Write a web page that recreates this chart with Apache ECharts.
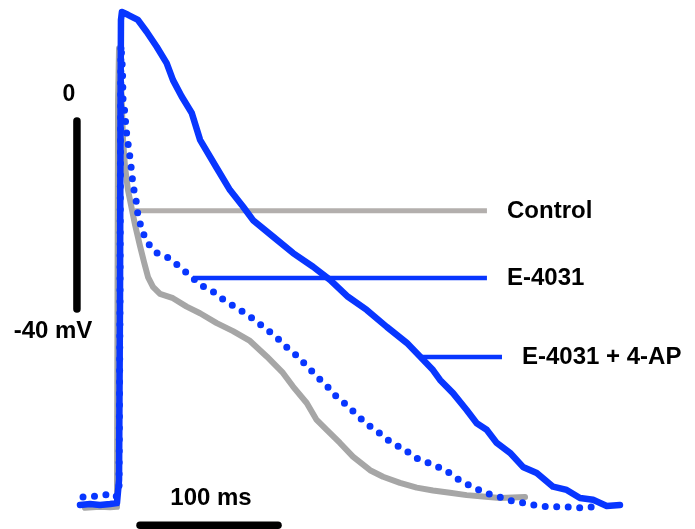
<!DOCTYPE html>
<html>
<head>
<meta charset="utf-8">
<script src="https://cdn.jsdelivr.net/npm/echarts@6/dist/echarts.min.js"></script>
<style>html,body{margin:0;padding:0;background:#fff;}#c{width:695px;height:529px;}</style>
</head>
<body>
<div id="c"></div>
<script>
// time (ms) and membrane potential (mV)
const controlT = [-25.4,-14.5,-7.2,-2.2,-1.8,-1.4,-0.7,0.7,2.2,3.6,5.8,8.0,10.9,14.5,17.4,20.3,23.9,29.0,38.4,48.3,58.0,70.1,81.9,94.2,106.3,118.1,125.4,135.3,142.5,149.8,159.4,168.8,181.2,190.6,202.9,215.0,226.8,239.1,251.2,263.0,275.4,293.5];
const controlV = [-82.3,-82.1,-82.2,-82.1,-38.1,4.5,15.5,8.7,-4.0,-9.6,-14.7,-17.9,-22.1,-26.6,-30.0,-33.2,-35.3,-36.8,-37.7,-39.5,-40.9,-43.0,-44.7,-46.8,-50.1,-53.6,-56.5,-60.0,-63.6,-65.7,-68.5,-71.4,-74.3,-75.7,-77.0,-78.0,-78.6,-79.1,-79.6,-79.9,-80.2,-80.0];

const e4031T = [-26.8,-15.9,-7.2,-2.9,-0.7,0,0.4,0.7,1.8,2.2,3.6,4.3,5.8,7.2,8.5,9.4,11.6,13.0,15.7,19.3,26.1,34.8,42.8,50.7,58.7,67.4,75.4,84.1,92.8,104.3,113.0,120.3,128.0,135.3,142.5,150.0,157.0,165.0,172.5,180.4,188.9,196.9,205.8,213.8,219.3,228.6,237.7,246.4,255.1,264.5,273.9,283.8,293.5,302.9,313.5,323.7,333.8,342.5];
const e4031V = [-80.0,-79.8,-79.4,-80.0,-78.5,-38.1,0.2,16.2,10.9,4.5,1.7,-1.5,-4.7,-7.7,-10.9,-13.6,-16.8,-20.0,-23.0,-25.7,-28.0,-29.1,-30.9,-32.9,-34.9,-36.3,-38.1,-39.7,-41.3,-43.9,-45.9,-48.0,-49.9,-52.1,-54.3,-56.4,-58.7,-60.6,-62.8,-64.8,-66.6,-68.5,-69.8,-71.6,-72.3,-73.3,-74.7,-76.5,-77.8,-79.1,-79.9,-80.8,-81.3,-81.9,-82.1,-82.1,-82.3,-82.1];

const apT = [-29.0,-21.7,-14.5,-7.2,-2.2,-0.7,0,0.4,0.7,1.4,5.8,13.0,19.3,26.6,33.8,38.4,44.7,52.0,58.0,70.1,79.7,89.1,96.4,110.9,125.4,139.9,152.2,165.2,178.8,193.3,207.8,217.4,226.8,231.9,241.3,251.2,258.5,265.7,273.0,282.6,292.0,302.0,313.8,323.7,333.3,342.8,352.7,362.3];
const apV = [-81.7,-81.5,-81.7,-81.5,-81.3,-76.4,-38.1,4.5,21.5,23.2,22.6,21.5,19.0,15.8,12.3,8.7,5.2,1.7,-4.0,-10.0,-14.7,-18.2,-21.1,-24.6,-28.1,-31.0,-33.8,-37.4,-40.2,-43.8,-47.2,-50.1,-53.0,-55.1,-57.9,-61.5,-64.3,-65.7,-68.5,-70.6,-73.6,-74.9,-77.8,-78.5,-80.2,-80.6,-81.9,-81.7];

// legend leader lines: [t start, t end, level mV]
const leaderControl = [10.9, 265.9, -19.1];
const leaderE4031 = [52.9, 265.9, -33.4];
const leaderAP = [217.4, 276.8, -50.2];

// scale bars
const scaleBarMs = [14.5, 114.5]; // 100 ms
const scaleBarMsLevel = -86.0;
const scaleBarMv = [0, -40];      // 40 mV
const scaleBarMvTime = -31.2;

const labels = ['Control', 'E-4031', 'E-4031 + 4-AP'];

const zip = (a, b) => a.map((v, i) => [v, b[i]]);
const hline = (l) => [[l[0], l[2]], [l[1], l[2]]];

const BLUE = '#0836ff';
const GRAY = '#a6a6a6';
const LGRAY = '#b3afad';

const base = {type: 'line', showSymbol: false, symbol: 'none', animation: false, clip: false, silent: true};

const chart = echarts.init(document.getElementById('c'), null, {renderer: 'canvas'});
chart.setOption({
  backgroundColor: '#ffffff',
  animation: false,
  grid: {left: 9.6, top: 3.5, width: 676.2, height: 517, containLabel: false},
  xAxis: {type: 'value', min: -80, max: 410, show: false},
  yAxis: {type: 'value', min: -85, max: 25, show: false},
  series: [
    Object.assign({}, base, {name: 'leaderControl', data: hline(leaderControl), lineStyle: {color: LGRAY, width: 5}}),
    Object.assign({}, base, {name: 'leaderE4031', data: hline(leaderE4031), lineStyle: {color: BLUE, width: 4.5}}),
    Object.assign({}, base, {name: 'leaderAP', data: hline(leaderAP), lineStyle: {color: BLUE, width: 4.5}}),
    Object.assign({}, base, {name: labels[0], data: zip(controlT, controlV), lineStyle: {color: GRAY, width: 6, join: 'round', cap: 'round'}}),
    Object.assign({}, base, {name: labels[1], data: zip(e4031T, e4031V), lineStyle: {color: BLUE, width: 7, type: [0, 11.5], cap: 'round', join: 'round'}}),
    Object.assign({}, base, {name: labels[2], data: zip(apT, apV), lineStyle: {color: BLUE, width: 6.5, join: 'round', cap: 'round'}}),
    Object.assign({}, base, {name: 'barMs', data: [[scaleBarMs[0], scaleBarMsLevel], [scaleBarMs[1], scaleBarMsLevel]], lineStyle: {color: '#000', width: 7.5, cap: 'round'}}),
    Object.assign({}, base, {name: 'barMv', data: [[scaleBarMvTime, scaleBarMv[0]], [scaleBarMvTime, scaleBarMv[1]]], lineStyle: {color: '#000', width: 7.5, cap: 'round'}})
  ],
  graphic: [
    {type: 'text', left: 507, top: 199, style: {text: labels[0], font: 'bold 24px "Liberation Sans", Arial, sans-serif', fill: '#000'}},
    {type: 'text', left: 507, top: 266, style: {text: labels[1], font: 'bold 24px "Liberation Sans", Arial, sans-serif', fill: '#000'}},
    {type: 'text', left: 522, top: 345, style: {text: labels[2], font: 'bold 24px "Liberation Sans", Arial, sans-serif', fill: '#000'}},
    {type: 'text', x: 69, y: 95, style: {text: '0', font: 'bold 23px "Liberation Sans", Arial, sans-serif', fill: '#000', align: 'center', verticalAlign: 'middle'}},
    {type: 'text', x: 53, y: 331, style: {text: '-40 mV', font: 'bold 24px "Liberation Sans", Arial, sans-serif', fill: '#000', align: 'center', verticalAlign: 'middle'}},
    {type: 'text', x: 211, y: 498, style: {text: '100 ms', font: 'bold 24px "Liberation Sans", Arial, sans-serif', fill: '#000', align: 'center', verticalAlign: 'middle'}}
  ]
});
</script>
</body>
</html>
